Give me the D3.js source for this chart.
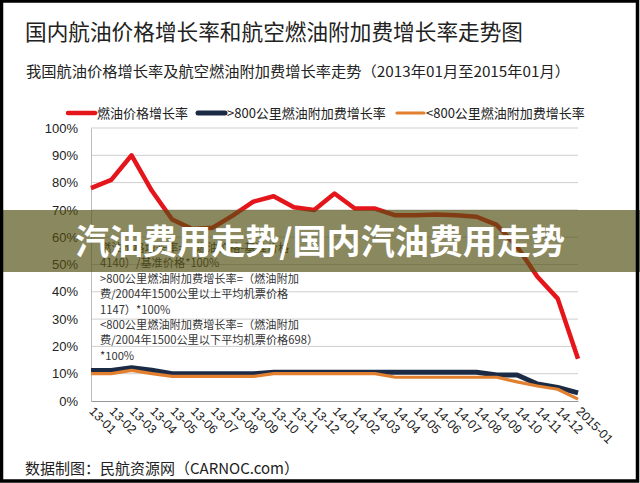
<!DOCTYPE html>
<html><head><meta charset="utf-8">
<script src="https://cdn.jsdelivr.net/npm/d3@7"></script>
<style>body{margin:0;background:#fff}svg{display:block}</style>
</head><body>
<svg id="c" width="640" height="483"></svg>
<script>
const months = ["13-01","13-02","13-03","13-04","13-05","13-06","13-07","13-08","13-09","13-10","13-11","13-12",
  "14-01","14-02","14-03","14-04","14-05","14-06","14-07","14-08","14-09","14-10","14-11","14-12","2015-01"];
const fuelPrice = [78,81,90,77,66.5,63,63.5,68,73,75,71,70,76,70.5,70.5,68,68,68.3,68,67.5,64.5,56.5,45.5,37.5,15.5];
const above800 = [11.2,11.2,12.2,11.3,10,10,10,10,10,10.5,10.5,10.5,10.5,10.5,10.5,10.5,10.5,10.5,10.5,10.5,9.5,9.5,6.2,5,3];
const below800 = [10,10,11.2,10,9,9,9,9,9,10,10,10,10,10,10,8.7,8.7,8.7,8.7,8.7,8.7,7,5.5,4.3,0.7];
const yTicks = [0,10,20,30,40,50,60,70,80,90,100];
const seriesNames = ["燃油价格增长率", ">800公里燃油附加费增长率", "<800公里燃油附加费增长率"];
const title = "国内航油价格增长率和航空燃油附加费增长率走势图";
const subtitle = "我国航油价格增长率及航空燃油附加费增长率走势（2013年01月至2015年01月）";
const notes = ["燃油价格增长率=（燃油价格-基准价格",
  "4140）/基准价格*100%",
  ">800公里燃油附加费增长率=（燃油附加",
  "费/2004年1500公里以上平均机票价格",
  "1147）*100%",
  "<800公里燃油附加费增长率=（燃油附加",
  "费/2004年1500公里以下平均机票价格698）",
  "*100%"];
const footer = "数据制图：民航资源网（CARNOC.com）";
const banner = "汽油费用走势/国内汽油费用走势";

const svg = d3.select("#c");
const CJK = "'Noto Sans CJK SC','Noto Sans',sans-serif";
const LAT = "'Liberation Sans',Arial,sans-serif";
const pLeft = 91, pRight = 578, pTop = 128, pBottom = 401;
const x = d3.scalePoint().domain(months).range([pLeft, pRight]);
const y = d3.scaleLinear().domain([0, 100]).range([pBottom, pTop]);

svg.append("text").attr("x", 25).attr("y", 40).text(title)
  .attr("font-family", CJK).attr("font-size", 21.5).attr("fill", "#222")
  .attr("textLength", 498).attr("lengthAdjust", "spacingAndGlyphs");
svg.append("text").attr("x", 26).attr("y", 77).text(subtitle)
  .attr("font-family", CJK).attr("font-size", 14.5).attr("fill", "#222")
  .attr("textLength", 544).attr("lengthAdjust", "spacingAndGlyphs");

// gridlines
svg.append("g").selectAll("line").data(yTicks.filter(d => d > 0)).join("line")
  .attr("x1", pLeft).attr("x2", pRight).attr("y1", d => y(d)).attr("y2", d => y(d))
  .attr("stroke", "#cfcfcf").attr("stroke-width", 1);

// y axis
const ya = svg.append("g").attr("transform", `translate(${pLeft},0)`)
  .call(d3.axisLeft(y).tickValues(yTicks).tickFormat(d => d + "%").tickSize(0).tickPadding(13));
ya.select(".domain").attr("stroke", "#bbb");
ya.selectAll("text").attr("font-family", LAT).attr("font-size", 13).attr("fill", "#222");

// x axis
const xa = svg.append("g").attr("transform", `translate(0,${pBottom})`)
  .call(d3.axisBottom(x).tickSize(0).tickPadding(0));
xa.select(".domain").attr("stroke", "#999");
xa.selectAll("text").attr("font-family", LAT).attr("font-size", 12.5).attr("fill", "#222")
  .attr("text-anchor", "start").attr("dy", 0).attr("y", 0)
  .attr("transform", "translate(-3,11) rotate(45)");

// notes
svg.append("g").selectAll("text").data(notes).join("text")
  .attr("x", 100).attr("y", (d, i) => 252 + i * 15.4).text(d => d)
  .attr("font-family", CJK).attr("font-size", 11.2).attr("fill", "#333");

// lines
const line = d3.line().x((d, i) => x(months[i])).y(d => y(d));
const series = [
  {vals: fuelPrice, color: "#e5161b", w: 4.5},
  {vals: above800, color: "#1c2b45", w: 5},
  {vals: below800, color: "#e2802f", w: 3.2}
];
svg.append("g").selectAll("path").data(series).join("path")
  .attr("d", d => line(d.vals)).attr("fill", "none")
  .attr("stroke", d => d.color).attr("stroke-width", d => d.w)
  .attr("stroke-linejoin", "round");

// legend
const legX = [68, 198, 397];
const lg = svg.append("g").selectAll("g").data(series).join("g")
  .attr("transform", (d, i) => `translate(${legX[i]},113)`);
lg.append("line").attr("x1", 0).attr("x2", 27).attr("stroke", d => d.color)
  .attr("stroke-width", d => d.w).attr("stroke-linecap", "round");
lg.append("text").attr("x", 29).attr("dy", "0.35em").text((d, i) => seriesNames[i])
  .attr("font-family", CJK).attr("font-size", 13).attr("fill", "#222");

// footer
svg.append("text").attr("x", 25).attr("y", 474).text(footer)
  .attr("font-family", CJK).attr("font-size", 15).attr("fill", "#222");

// banner overlay
svg.append("rect").attr("x", 0).attr("y", 210).attr("width", 640).attr("height", 62)
  .attr("fill", "rgb(83,79,18)").attr("fill-opacity", 0.68);
svg.append("text").attr("x", 320).attr("y", 254).attr("text-anchor", "middle").text(banner)
  .attr("font-family", CJK).attr("font-weight", 700).attr("font-size", 34).attr("fill", "#fff")
  .attr("textLength", 490).attr("lengthAdjust", "spacingAndGlyphs");

// frame
svg.append("rect").attr("x", 1.5).attr("y", 1).attr("width", 636).attr("height", 480)
  .attr("fill", "none").attr("stroke", "#000").attr("stroke-width", 3.5);
</script>
</body></html>
